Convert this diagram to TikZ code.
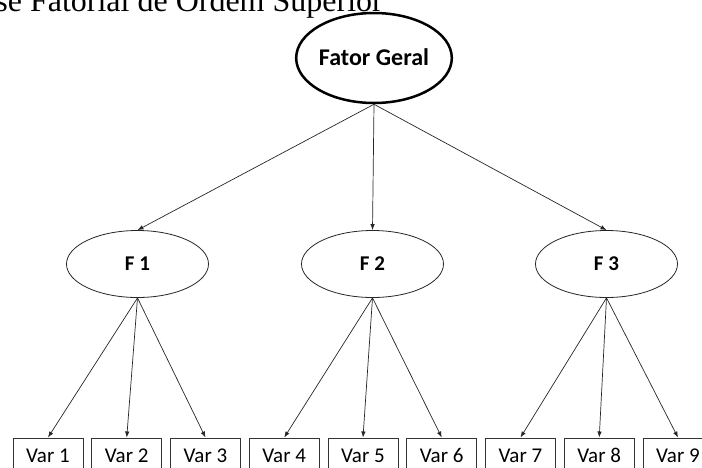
\documentclass[tikz,border=0pt]{standalone}
\usepackage{fontspec}
\setmainfont{Liberation Serif}
\newfontfamily\calibri{Carlito}
\usetikzlibrary{shapes.geometric, arrows.meta}

\tikzset{
	fator/.style = {ellipse, draw = black!85, line width = 0.8pt, minimum width = 142pt, minimum height = 67pt, inner sep = 0pt, text height = 13.5pt, text depth = 0pt, font = \calibri\bfseries\fontsize{21}{24}\selectfont},
	geral/.style = {fator, draw = black, line width = 2.5pt, minimum width = 144pt, minimum height = 90pt, text height = 15.5pt, font = \calibri\bfseries\fontsize{24}{28}\selectfont},
	varbox/.style = {rectangle, draw = black!80, line width = 1pt, minimum width = 70pt, minimum height = 36pt, inner sep = 0pt, text height = 13.5pt, text depth = 0pt, font = \calibri\fontsize{21}{24}\selectfont},
	seta/.style = {->, line width = 0.7pt, draw = black!85}
}

\begin{document}
\begin{tikzpicture}[x = 1pt, y = -1pt, > = {Latex[length = 6pt, width = 4.5pt]}]

	\useasboundingbox (0, 0) rectangle (702, 467);

	% Title (cut at the top)
	
	\node (titulo) [anchor = base east, inner sep = 0pt, font = \fontsize{32}{38}\selectfont] at (383, 11) {se Fatorial de Ordem Superior};

	% Factors
	
	\node (geral) [geral] at (374, 58) {Fator Geral};
	
	\node (f1) [fator] at (137.5, 264) {F 1};
	\node (f2) [fator] at (372.5, 264) {F 2};
	\node (f3) [fator] at (606.5, 264) {F 3};
	
	% Variables
	
	\foreach \i in {1, ..., 9}
		\node (v\i) [varbox] at ({48 + 78.75 * (\i - 1)}, 456) {Var \i};
	
	% Arrows
	
	\foreach \f in {1, 2, 3}
		\draw [seta] (geral.south) -- (f\f.north);
	
	\foreach \f/\v in {1/1, 1/2, 1/3, 2/4, 2/5, 2/6, 3/7, 3/8, 3/9}
		\draw [seta] (f\f.south) -- (v\v.north);

\end{tikzpicture}
\end{document}
